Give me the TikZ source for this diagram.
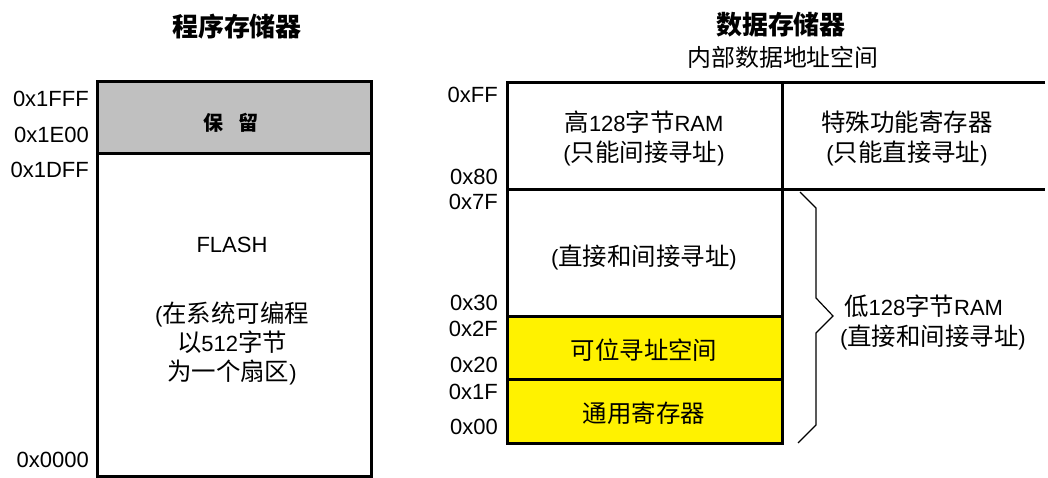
\documentclass[tikz,border=0pt]{standalone}
\usepackage{fontspec}
\setmainfont{Liberation Sans}
\newfontfamily\cjk[Scale=1.11]{Noto Sans CJK SC}
\newcommand\C[1]{{\cjk #1}}
\definecolor{resgray}{RGB}{192,192,192}
\tikzset{
  addr/.style={anchor=east, inner sep=0pt, font=\fontsize{22}{26}\selectfont},
  txt/.style={inner sep=0pt, align=center, font=\fontsize{22}{30}\selectfont},
  title/.style={inner sep=0pt, align=center, font=\fontsize{23.4}{28}\selectfont\bfseries},
  frame/.style={line width=3pt},
  bracepath/.style={line width=1.2pt},
}
\begin{document}
\begin{tikzpicture}[x=1pt,y=-1pt]
\useasboundingbox (0,0) rectangle (1048,478);
% titles
\node[title] (t1) at (237,27) {\C{程序存储器}};
\node[title] (t2) at (781,25) {\C{数据存储器}};
\node[inner sep=0pt, font=\fontsize{21.5}{26}\selectfont] (t3) at (783,57) {\C{内部数据地址空间}};
% program memory
\fill[resgray] (97,82) rectangle (371,154);
\draw[frame] (97,82) rectangle (371,476);
\draw[frame] (97,154) -- (371,154);
\node[inner sep=0pt, font=\fontsize{18}{22}\selectfont\bfseries] (res) at (231,123) {\C{保}\hspace{16pt}\C{留}};
\node[txt] (flash) at (232,245) {FLASH};
\node[txt, font=\fontsize{22}{29}\selectfont] (flashd) at (232,343) {(\C{在系统可编程}\\ \C{以}512\C{字节}\\ \C{为一个扇区})};
\node[addr] (a1) at (89,99) {0x1FFF};
\node[addr] (a2) at (89,135) {0x1E00};
\node[addr] (a3) at (89,170) {0x1DFF};
\node[addr] (a4) at (89,460) {0x0000};
% data memory
\fill[yellow] (507,316) rectangle (782,443);
\draw[frame] (1045,83) -- (507,83) -- (507,443) -- (782,443) -- (782,83);
\draw[frame] (507,190) -- (1045,190);
\draw[frame] (507,316) -- (782,316);
\draw[frame] (507,379) -- (782,379);
\node[txt] (hi) at (644,138) {\C{高}128\C{字节}RAM\\ (\C{只能间接寻址})};
\node[txt] (sfr) at (907,138) {\C{特殊功能寄存器}\\ (\C{只能直接寻址})};
\node[txt] (dir) at (644,258) {(\C{直接和间接寻址})};
\node[txt] (bit) at (644,350) {\C{可位寻址空间}};
\node[txt] (gpr) at (644,413) {\C{通用寄存器}};
\node[addr] (b1) at (498,95) {0xFF};
\node[addr] (b2) at (498,177) {0x80};
\node[addr] (b3) at (498,202) {0x7F};
\node[addr] (b4) at (498,303) {0x30};
\node[addr] (b5) at (498,329) {0x2F};
\node[addr] (b6) at (498,365) {0x20};
\node[addr] (b7) at (498,392) {0x1F};
\node[addr] (b8) at (498,427) {0x00};
% brace
\coordinate (br1) at (800,192);
\coordinate (br2) at (816,208);
\coordinate (br3) at (816,298);
\coordinate (brtip) at (833,316);
\coordinate (br5) at (816,333);
\coordinate (br6) at (816,425);
\coordinate (br7) at (798,443);
\draw[bracepath] (br1) -- (br2) -- (br3) -- (brtip) -- (br5) -- (br6) -- (br7);
\node[txt, align=left, anchor=west] (low) at (840,322) {\hspace*{4pt}\C{低}128\C{字节}RAM\\(\C{直接和间接寻址})};
\end{tikzpicture}
\end{document}
